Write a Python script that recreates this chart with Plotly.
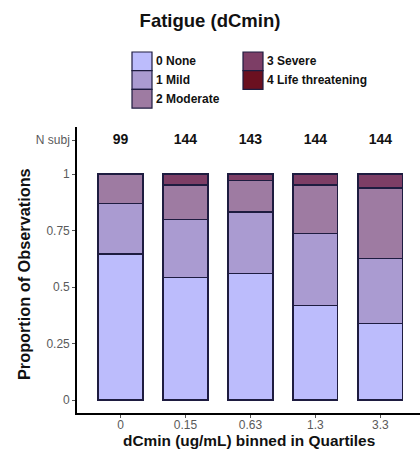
import plotly.graph_objects as go

# ---- data ----
bins = ["0", "0.15", "0.63", "1.3", "3.3"]
n_subj = [99, 144, 143, 144, 144]
grades = ["0 None", "1 Mild", "2 Moderate", "3 Severe", "4 Life threatening"]
colors = ["#bcbcfc", "#aa9bd1", "#9e7ba2", "#7d3e66", "#6b1020"]
p_none = [0.646, 0.542, 0.559, 0.417, 0.340]
p_mild = [0.223, 0.257, 0.273, 0.319, 0.285]
p_moderate = [0.131, 0.152, 0.140, 0.215, 0.3125]
p_severe = [0.000, 0.049, 0.028, 0.049, 0.0625]
p_life = [0.0, 0.0, 0.0, 0.0, 0.0]
series = [p_none, p_mild, p_moderate, p_severe, p_life]
y_ticks = [0, 0.25, 0.5, 0.75, 1, 1.15]
y_ticktext = ["0", "0.25", "0.5", "0.75", "1", "N subj"]

FONT = "Liberation Sans, Arial, Helvetica, sans-serif"
W, H = 420, 452
L, R, T, B = 77, 0, 127, 39

fig = go.Figure()
for g, c, vals in zip(grades, colors, series):
    fig.add_trace(go.Bar(
        x=bins, y=vals, name=g, width=0.69,
        marker=dict(color=c, line=dict(color="#1e1c40", width=1.3)),
        showlegend=False,
    ))

fig.add_trace(go.Scatter(
    x=bins, y=[1.15] * len(bins), mode="text",
    text=[str(n) for n in n_subj],
    textfont=dict(family=FONT, size=14, color="#111111"),
    texttemplate="<b>%{text}</b>",
    showlegend=False, hoverinfo="skip",
))

# ---- manual legend (two columns, column-major like ggplot) ----
pw, ph = W - L - R, H - T - B
def px(x): return (x - L) / pw
def py(y): return (H - B - y) / ph

shapes = []
annotations = []
key_w, key_h = 20, 18.7
cols = [(132, 52), (243, 52)]
for i, (g, c) in enumerate(zip(grades, colors)):
    col = 0 if i < 3 else 1
    row = i if i < 3 else i - 3
    x0, y0 = cols[col][0], cols[col][1] + row * key_h
    shapes.append(dict(type="rect", xref="paper", yref="paper",
                       x0=px(x0), x1=px(x0 + key_w), y0=py(y0 + key_h), y1=py(y0),
                       fillcolor=c, line=dict(color="#1e1c40", width=1.2)))
    annotations.append(dict(xref="paper", yref="paper", x=px(x0 + key_w + 2),
                            y=py(y0 + key_h / 2), xanchor="left", yanchor="middle",
                            text="<b>%s</b>" % g, showarrow=False,
                            font=dict(family=FONT, size=12, color="#111111")))

# axis titles as annotations for exact placement
annotations.append(dict(xref="paper", yref="paper", x=px(249), y=py(440),
                        xanchor="center", yanchor="middle", showarrow=False,
                        text="<b>dCmin (ug/mL) binned in Quartiles</b>",
                        font=dict(family=FONT, size=15.4, color="#111111")))
annotations.append(dict(xref="paper", yref="paper", x=px(24), y=py(274),
                        xanchor="center", yanchor="middle", showarrow=False,
                        textangle=-90,
                        text="<b>Proportion of Observations</b>",
                        font=dict(family=FONT, size=16.3, color="#111111")))

fig.update_layout(
    width=W, height=H,
    margin=dict(l=L, r=R, t=T, b=B, pad=0, autoexpand=False),
    plot_bgcolor="white", paper_bgcolor="white",
    barmode="stack", bargap=0.31,
    title=dict(text="<b>Fatigue (dCmin)</b>", xref="container", x=0.5,
               yref="container", y=1 - 21 / H, xanchor="center", yanchor="middle",
               font=dict(family=FONT, size=18.5, color="#111111")),
    shapes=shapes, annotations=annotations,
    showlegend=False,
)
fig.update_xaxes(
    type="category", range=[-0.67, 4.61], automargin=False,
    showline=True, linecolor="black", linewidth=1.6,
    ticks="outside", ticklen=3, tickcolor="#555555",
    tickfont=dict(family=FONT, size=12, color="#5a5a5a"),
    ticklabelstandoff=-3,
    showgrid=False, zeroline=False,
)
fig.update_yaxes(
    range=[-0.0575, 1.208], automargin=False,
    tickvals=y_ticks, ticktext=y_ticktext,
    showline=True, linecolor="black", linewidth=1.6,
    ticks="outside", ticklen=3, tickcolor="#555555",
    tickfont=dict(family=FONT, size=12, color="#5a5a5a"),
    showgrid=False, zeroline=False,
)

fig.write_html("out.html", config={"displayModeBar": False},
               post_script="document.body.style.margin='0';document.body.style.padding='0';")
